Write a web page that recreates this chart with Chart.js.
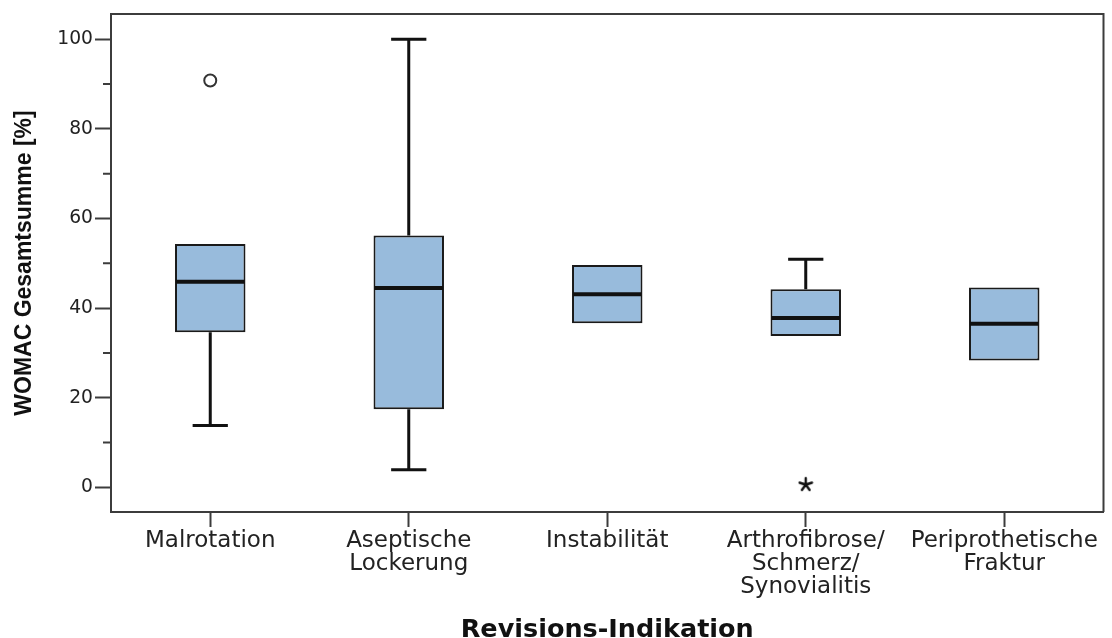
<!DOCTYPE html>
<html>
<head>
<meta charset="utf-8">
<script src="https://cdn.jsdelivr.net/npm/chart.js@4/dist/chart.umd.min.js"></script>
<style>
  body { margin: 0; background: #fff; }
</style>
</head>
<body>
<canvas id="chart" width="1112" height="638"></canvas>
<script>
let categories = [
    ["Malrotation"],
    ["Aseptische", "Lockerung"],
    ["Instabilität"],
    ["Arthrofibrose/", "Schmerz/", "Synovialitis"],
    ["Periprothetische", "Fraktur"]
]

let whiskerLow = [13.8, 3.9, 36.6, 33.8, 28.3]
let q1 = [34.6, 17.4, 36.6, 33.8, 28.3]
let median = [45.9, 44.5, 43.1, 37.8, 36.5]
let q3 = [54.3, 56.2, 49.6, 44.2, 44.6]
let whiskerHigh = [54.3, 100, 49.6, 50.9, 44.6]

// circle = outlier, star = extreme value
let outliers = [90.8, null, null, null, null]
let extremes = [null, null, null, 0.7, null]

let majorTicks = [0, 20, 40, 60, 80, 100]
let minorTicks = [10, 30, 50, 70, 90]

let frameColor = '#3c3c3c'
let boxFill = '#98bbdc'

// small five-armed asterisk used as point style
let starCanvas = document.createElement('canvas')
starCanvas.width = 16
starCanvas.height = 16
let sctx = starCanvas.getContext('2d')
sctx.strokeStyle = '#111'
sctx.lineWidth = 2.4
sctx.lineCap = 'round'
sctx.beginPath()
for (let k = 0; k < 5; k++) {
    let ang = -Math.PI / 2 + k * 2 * Math.PI / 5
    sctx.moveTo(8, 8.5)
    sctx.lineTo(8 + 6.5 * Math.cos(ang), 8.5 + 6.5 * Math.sin(ang))
}
sctx.stroke()

let boxPlugin = {
    id: 'boxParts',
    afterDatasetsDraw(chart) {
        let ctx = chart.ctx
        let y = chart.scales.y
        let bars = chart.getDatasetMeta(0).data
        ctx.save()
        ctx.strokeStyle = '#111'
        bars.forEach((bar, i) => {
            let x = bar.x
            let w = bar.width
            let capHalf = w / 4
            ctx.lineWidth = 3
            ctx.beginPath()
            if (whiskerHigh[i] > q3[i]) {
                let yTop = y.getPixelForValue(whiskerHigh[i])
                ctx.moveTo(x, y.getPixelForValue(q3[i]))
                ctx.lineTo(x, yTop)
                ctx.moveTo(x - capHalf, yTop)
                ctx.lineTo(x + capHalf, yTop)
            }
            if (whiskerLow[i] < q1[i]) {
                let yLow = y.getPixelForValue(whiskerLow[i])
                ctx.moveTo(x, y.getPixelForValue(q1[i]))
                ctx.lineTo(x, yLow)
                ctx.moveTo(x - capHalf, yLow)
                ctx.lineTo(x + capHalf, yLow)
            }
            ctx.stroke()
            ctx.lineWidth = 4
            ctx.beginPath()
            let ym = y.getPixelForValue(median[i])
            ctx.moveTo(x - w / 2 + 1, ym)
            ctx.lineTo(x + w / 2 - 1, ym)
            ctx.stroke()
        })
        ctx.restore()
    },
    afterDraw(chart) {
        let ctx = chart.ctx
        let a = chart.chartArea
        let y = chart.scales.y
        ctx.save()
        ctx.strokeStyle = frameColor
        ctx.lineWidth = 2
        ctx.beginPath()
        ctx.moveTo(a.left, a.top)
        ctx.lineTo(a.right, a.top)
        ctx.lineTo(a.right, a.bottom)
        ctx.stroke()
        ctx.beginPath()
        minorTicks.forEach(v => {
            let py = y.getPixelForValue(v)
            ctx.moveTo(a.left - 8, py)
            ctx.lineTo(a.left, py)
        })
        ctx.stroke()
        ctx.restore()
    }
}

let chart = new Chart(
    document.getElementById("chart"),
    {
        type: 'bar',
        data: {
            labels: categories,
            datasets: [
                {
                    type: 'bar',
                    label: 'Box',
                    data: q1.map((v, i) => [v, q3[i]]),
                    backgroundColor: boxFill,
                    borderColor: '#1a1a1a',
                    borderWidth: 2,
                    borderSkipped: false,
                    barPercentage: 0.355,
                    categoryPercentage: 1
                },
                {
                    type: 'line',
                    label: 'Ausreißer',
                    data: outliers,
                    showLine: false,
                    pointStyle: 'circle',
                    pointRadius: 6,
                    pointBorderWidth: 2,
                    pointBorderColor: '#333',
                    pointBackgroundColor: '#fff'
                },
                {
                    type: 'line',
                    label: 'Extremwert',
                    data: extremes,
                    showLine: false,
                    pointStyle: starCanvas
                }
            ]
        },
        options: {
            responsive: false,
            animation: false,
            layout: {
                padding: { top: 14, right: 8.5, left: 0, bottom: 0 }
            },
            plugins: {
                legend: { display: false },
                tooltip: { enabled: false }
            },
            scales: {
                x: {
                    offset: true,
                    grid: {
                        offset: false,
                        drawOnChartArea: false,
                        tickLength: 15,
                        tickColor: frameColor,
                        tickWidth: 2
                    },
                    border: { color: frameColor, width: 2 },
                    ticks: {
                        color: '#222',
                        padding: 3,
                        maxRotation: 0,
                        autoSkip: false,
                        font: { family: 'DejaVu Sans', size: 23, lineHeight: 1.0 }
                    },
                    title: {
                        display: true,
                        text: 'Revisions-Indikation',
                        color: '#111',
                        padding: { top: 0, bottom: 0 },
                        font: { family: 'DejaVu Sans', size: 25.5, weight: 'bold', lineHeight: 0.6 }
                    },
                    afterFit: s => { s.height = 126 }
                },
                y: {
                    min: -5.51,
                    max: 105.65,
                    afterBuildTicks: s => { s.ticks = majorTicks.map(v => ({ value: v })) },
                    grid: {
                        drawOnChartArea: false,
                        tickLength: 16,
                        tickColor: frameColor,
                        tickWidth: 2
                    },
                    border: { color: frameColor, width: 2 },
                    ticks: {
                        color: '#222',
                        padding: 2,
                        font: { family: 'DejaVu Sans', size: 18.7 }
                    },
                    title: {
                        display: true,
                        text: 'WOMAC Gesamtsumme [%]',
                        color: '#111',
                        padding: { top: 11, bottom: 0 },
                        font: { family: 'Liberation Sans', size: 23, weight: 'bold' }
                    },
                    afterFit: s => { s.width = 111 }
                }
            }
        },
        plugins: [boxPlugin]
    }
)
</script>
</body>
</html>
